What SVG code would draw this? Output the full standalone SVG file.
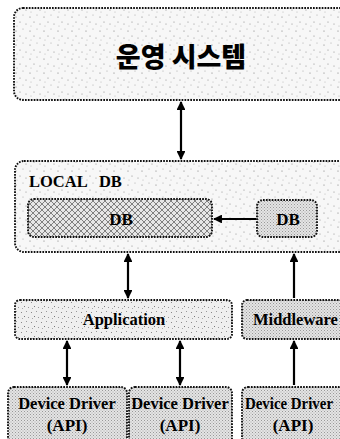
<svg xmlns="http://www.w3.org/2000/svg" width="340" height="439" viewBox="0 0 340 439">
  <defs>
    <pattern id="sparse" width="14" height="14" patternUnits="userSpaceOnUse">
      <rect width="14" height="14" fill="#f7f7f7"/>
      <circle cx="2" cy="3" r="0.6" fill="#777"/>
      <circle cx="9" cy="1" r="0.5" fill="#999"/>
      <circle cx="6" cy="8" r="0.6" fill="#888"/>
      <circle cx="12" cy="10" r="0.5" fill="#777"/>
      <circle cx="3" cy="12" r="0.5" fill="#aaa"/>
    </pattern>
    <pattern id="hatch" width="6" height="6" patternUnits="userSpaceOnUse">
      <rect width="6" height="6" fill="#e6e6e6"/>
      <path d="M0,0 L6,6 M-1,5 L1,7 M5,-1 L7,1" stroke="#555" stroke-width="0.7"/>
      <path d="M6,0 L0,6 M-1,1 L1,-1 M5,7 L7,5" stroke="#555" stroke-width="0.7"/>
    </pattern>
    <pattern id="dense" width="3" height="3" patternUnits="userSpaceOnUse">
      <rect width="3" height="3" fill="#e4e4e4"/>
      <rect x="0" y="0" width="1" height="1" fill="#999"/>
      <rect x="1.5" y="1.5" width="1" height="1" fill="#aaa"/>
    </pattern>
    <pattern id="mixed" width="10" height="10" patternUnits="userSpaceOnUse">
      <rect width="10" height="10" fill="#efefef"/>
      <rect x="1" y="2" width="1" height="1" fill="#888"/>
      <rect x="6" y="1" width="1" height="1" fill="#999"/>
      <rect x="4" y="6" width="1" height="1" fill="#777"/>
      <rect x="8" y="7" width="1" height="1" fill="#999"/>
      <rect x="2" y="8" width="1" height="1" fill="#aaa"/>
    </pattern>
    <marker id="ah" viewBox="0 0 10 10" refX="9" refY="5" markerWidth="4.5" markerHeight="4" orient="auto-start-reverse" markerUnits="strokeWidth">
      <path d="M0,0 L10,5 L0,10 z" fill="#000"/>
    </marker>
  </defs>
  <style>
    .box { stroke: #111; stroke-width: 1.9; stroke-dasharray: 1.7 1.2; }
    .conn { stroke: #000; stroke-width: 2.2; fill: none; }
    .ser { font-family: "Liberation Serif", "Times New Roman", serif; font-weight: bold; fill: #000; }
    .kr { font-family: "Noto Sans CJK KR", "Noto Sans", sans-serif; font-weight: 900; fill: #000; }
  </style>

  <g id="operating-system">
    <rect class="box" x="14" y="8" width="340" height="92" rx="9" fill="url(#sparse)"/>
    <text class="kr" x="181" y="67" font-size="27" text-anchor="middle">운영 시스템</text>
  </g>

  <g id="local-db">
    <rect class="box" x="15" y="161" width="340" height="91" rx="9" fill="url(#sparse)"/>
    <text class="ser" x="29" y="187" font-size="16.5" word-spacing="8">LOCAL DB</text>
  </g>

  <g id="db-main">
    <rect class="box" x="28" y="199" width="184" height="38" rx="6" fill="url(#hatch)"/>
    <text class="ser" x="121" y="225" font-size="17" text-anchor="middle">DB</text>
  </g>

  <g id="db-small">
    <rect class="box" x="257" y="200" width="60" height="37" rx="6" fill="url(#dense)"/>
    <text class="ser" x="288" y="225" font-size="17" text-anchor="middle">DB</text>
  </g>

  <g id="application">
    <rect class="box" x="15" y="300" width="217" height="39" rx="5" fill="url(#mixed)"/>
    <text class="ser" x="124" y="325" font-size="16.5" text-anchor="middle">Application</text>
  </g>

  <g id="middleware">
    <rect class="box" x="242" y="300" width="110" height="39" rx="5" fill="url(#dense)"/>
    <text class="ser" x="253" y="325" font-size="16.5">Middleware</text>
  </g>

  <g id="device-driver-1">
    <rect class="box" x="8" y="387" width="119" height="60" rx="6" fill="url(#dense)"/>
    <text class="ser" x="67" y="409" font-size="16.5" text-anchor="middle">Device Driver</text>
    <text class="ser" x="67" y="431" font-size="17" text-anchor="middle">(API)</text>
  </g>

  <g id="device-driver-2">
    <rect class="box" x="129" y="387" width="103" height="60" rx="6" fill="url(#dense)"/>
    <text class="ser" x="180" y="409" font-size="16.5" text-anchor="middle">Device Driver</text>
    <text class="ser" x="180" y="431" font-size="17" text-anchor="middle">(API)</text>
  </g>

  <g id="device-driver-3">
    <rect class="box" x="242" y="387" width="110" height="60" rx="6" fill="url(#dense)"/>
    <text class="ser" x="245" y="409" font-size="16" textLength="88" lengthAdjust="spacingAndGlyphs">Device Driver</text>
    <text class="ser" x="293" y="431" font-size="17" text-anchor="middle">(API)</text>
  </g>

  <g id="connectors">
    <line class="conn" x1="181" y1="102" x2="181" y2="159" marker-start="url(#ah)" marker-end="url(#ah)"/>
    <line class="conn" x1="256" y1="219" x2="214" y2="219" marker-end="url(#ah)"/>
    <line class="conn" x1="128" y1="254" x2="128" y2="298" marker-start="url(#ah)" marker-end="url(#ah)"/>
    <line class="conn" x1="294" y1="298" x2="294" y2="254" marker-end="url(#ah)"/>
    <line class="conn" x1="67" y1="341" x2="67" y2="385" marker-start="url(#ah)" marker-end="url(#ah)"/>
    <line class="conn" x1="180" y1="341" x2="180" y2="385" marker-start="url(#ah)" marker-end="url(#ah)"/>
    <line class="conn" x1="294" y1="385" x2="294" y2="341" marker-end="url(#ah)"/>
  </g>
</svg>
